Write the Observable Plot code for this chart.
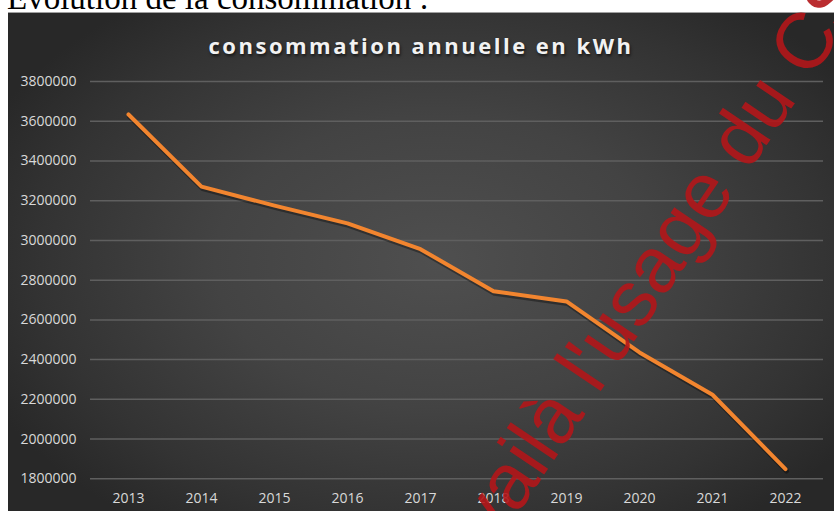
<!DOCTYPE html>
<html>
<head>
<meta charset="utf-8">
<script src="https://cdn.jsdelivr.net/npm/d3@7"></script>
<script src="https://cdn.jsdelivr.net/npm/@observablehq/plot@0.6"></script>
<style>
  html, body { margin: 0; padding: 0; background: #ffffff; }
  body { width: 834px; height: 511px; overflow: hidden; position: relative; }
  #heading { position: absolute; left: 0; top: 0; }
  #chart {
    position: absolute; left: 8px; top: 12px; width: 826px; height: 499px;
    background: radial-gradient(ellipse 60% 65% at 52% 50%, #4f4f4f 0%, #434343 45%, #333333 80%, #282828 100%);
    box-shadow: inset 0 1px 0 #a0a0a0;
  }
  #title {
    position: absolute; left: 0; width: 826px; top: 18px; text-align: center;
    font-family: "Open Sans", sans-serif; font-weight: 700; font-size: 22px;
    letter-spacing: 2.5px; color: #f2f2f2; text-shadow: 1px 2px 3px rgba(0,0,0,0.6);
    line-height: 30px;
  }
  #plot { position: absolute; left: 0; top: 0; }
  #watermark { position: absolute; left: 0; top: 0; pointer-events: none; }
</style>
</head>
<body>
<svg id="heading" width="834" height="12">
  <text x="7" y="9" font-family="Liberation Serif" font-size="33" fill="#000">Évolution de la consommation :</text>
</svg>
<div id="chart">
  <div id="plot"></div>
  <div id="title">consommation annuelle en kWh</div>
</div>
<svg id="watermark" width="834" height="511">
  <g transform="translate(561,450) rotate(-56)" font-family="Liberation Sans" font-size="79" fill="#b3161a" fill-opacity="0.9">
    <text x="0" y="0" text-anchor="end">Document de travail </text>
    <text x="0" y="0" text-anchor="start">à l'usage du CSE</text>
  </g>
</svg>
<script>
const years = ["2013", "2014", "2015", "2016", "2017", "2018", "2019", "2020", "2021", "2022"];
const consumption = [3634000, 3271000, 3175000, 3086000, 2956000, 2744000, 2693000, 2436000, 2223000, 1849000];
const yTicks = [1800000, 2000000, 2200000, 2400000, 2600000, 2800000, 3000000, 3200000, 3400000, 3600000, 3800000];

const data = years.map((year, i) => ({year, value: consumption[i]}));

const chart = Plot.plot({
  width: 826,
  height: 499,
  marginLeft: 82,
  marginRight: 11,
  marginTop: 69,
  marginBottom: 32.7,
  style: {background: "transparent", color: "#d9d9d9", fontFamily: "'Open Sans', sans-serif", fontSize: "14px"},
  x: {type: "point", domain: years, padding: 0.5, label: null, tickSize: 0, tickPadding: 14},
  y: {domain: [1800000, 3800000], ticks: yTicks, tickFormat: d => String(d), label: null, tickSize: 0, tickPadding: 14},
  marks: [
    Plot.ruleY(yTicks, {stroke: "#5f5f5f", strokeWidth: 1.5}),
    Plot.line(data, {x: "year", y: "value", stroke: "#000", strokeOpacity: 0.35, strokeWidth: 5, dx: 1, dy: 2, strokeLinejoin: "round", strokeLinecap: "round"}),
    Plot.line(data, {x: "year", y: "value", stroke: "#f2852f", strokeWidth: 4, strokeLinejoin: "round", strokeLinecap: "round"})
  ]
});
document.getElementById("plot").appendChild(chart);
</script>
</body>
</html>
